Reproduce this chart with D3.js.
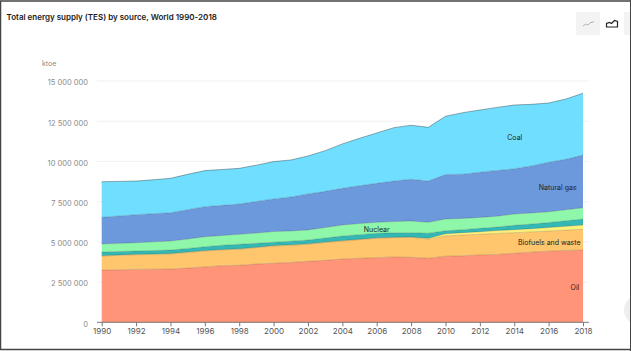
<!DOCTYPE html>
<html><head><meta charset="utf-8">
<script src="https://cdn.jsdelivr.net/npm/d3@7"></script>
<style>html,body{margin:0;padding:0;background:#fff;overflow:hidden}svg{display:block}</style>
</head><body><svg id="c" width="631" height="351"></svg>
<script>
const title = "Total energy supply (TES) by source, World 1990-2018";
const unit = "ktoe";
const years = d3.range(1990, 2019);
const yTicks = [0, 2500000, 5000000, 7500000, 10000000, 12500000, 15000000];
const seriesNames = ["Oil","Biofuels and waste","Wind, solar, etc.","Hydro","Nuclear","Natural gas","Coal"];
const seriesColors = ["#ff9478","#ffc66e","#fdf17a","#34b8b4","#8ff7a9","#6c98dc","#70deff"];
const oil = [3250,3260,3290,3300,3310,3370,3440,3520,3540,3620,3670,3720,3790,3850,3930,3980,4020,4060,4040,3980,4110,4130,4190,4220,4290,4360,4420,4470,4490];
const biofuels = [870,900,910,920,940,970,990,980,1000,1020,1070,1070,1060,1110,1120,1160,1200,1200,1240,1200,1260,1290,1280,1300,1280,1260,1250,1260,1290];
const windSolar = [30,30,30,30,30,30,30,30,30,30,30,30,30,30,30,30,30,30,30,50,130,150,160,180,190,200,220,240,270];
const hydro = [220,210,200,210,210,220,240,260,280,240,210,220,240,250,280,280,280,270,260,310,190,190,210,220,270,290,310,340,370];
const nuclear = [500,510,520,540,560,590,620,610,620,640,660,640,620,650,690,690,690,700,730,680,730,700,680,680,700,690,670,690,700];
const naturalGas = [1660,1700,1740,1750,1760,1820,1870,1870,1880,1960,2030,2110,2240,2250,2280,2350,2420,2520,2590,2560,2760,2750,2810,2840,2810,2920,3080,3130,3280];
const coal = [2210,2150,2090,2110,2140,2200,2240,2230,2220,2260,2320,2300,2360,2530,2760,2950,3130,3320,3360,3340,3630,3820,3870,3920,3970,3830,3680,3750,3840];
const seriesValues = [oil,biofuels,windSolar,hydro,nuclear,naturalGas,coal];
const labels = [
 {name:"Oil", year:2017.53, value:2160000},
 {name:"Biofuels and waste", year:2016.04, value:4960000},
 {name:"Nuclear", year:2006.0, value:5770000},
 {name:"Natural gas", year:2016.53, value:8410000},
 {name:"Coal", year:2014.03, value:11490000}
];

const svg = d3.select("#c");
const x = d3.scaleLinear().domain([1990,2018]).range([101.7,583]);
const y = d3.scaleLinear().domain([0,15000000]).range([322.3,81]);
const font = "Inter, 'Open Sans', sans-serif";

svg.append("rect").attr("width",631).attr("height",351).attr("fill","#fff");

svg.append("g").selectAll("line").data(yTicks.slice(1)).join("line")
 .attr("x1",97).attr("x2",589).attr("y1",d=>y(d)).attr("y2",d=>y(d))
 .attr("stroke","#f1f1f1").attr("stroke-width",1);

const rows = years.map((yr,i)=>{const r={year:yr};seriesNames.forEach((n,k)=>r[n]=seriesValues[k][i]*1000);return r;});
const stacked = d3.stack().keys(seriesNames)(rows);
const area = d3.area().x(d=>x(d.data.year)).y0(d=>y(d[0])).y1(d=>y(d[1]));
const line = d3.line().x(d=>x(d.data.year)).y(d=>y(d[1]));
const g = svg.append("g");
g.selectAll("path.a").data(stacked).join("path").attr("class","a").attr("d",area).attr("fill",(d,i)=>seriesColors[i]);
g.selectAll("path.l").data(stacked).join("path").attr("class","l").attr("d",line).attr("fill","none").attr("stroke","#000").attr("stroke-opacity",(d,i)=>i===6?0.4:0.2).attr("stroke-width",0.8);

const ax = svg.append("g").attr("transform","translate(0,322.3)")
 .call(d3.axisBottom(x).tickValues(d3.range(1990,2019,2)).tickFormat(d3.format("d")).tickSize(4).tickPadding(2));
ax.select(".domain").attr("d","M97,0H589").attr("stroke","#777");
ax.selectAll(".tick line").attr("stroke","#777");
ax.selectAll("text").attr("font-family",font).attr("font-size",8).attr("fill","#555");

svg.append("g").selectAll("text").data(yTicks).join("text")
 .attr("x",88).attr("y",d=>y(d)+4.4).attr("text-anchor","end")
 .attr("font-family",font).attr("font-size",7.5).attr("fill","#8a8a8a")
 .text(d=>d3.format(",")(d).replace(/,/g," "));

svg.append("text").attr("x",42).attr("y",65.5).attr("font-family",font).attr("font-size",7).attr("fill","#8a8a8a").text(unit);
svg.append("text").attr("x",6.5).attr("y",20).attr("font-family",font).attr("font-size",8).attr("font-weight",600).attr("fill","#1a1a1a").text(title);

svg.append("g").selectAll("text").data(labels).join("text")
 .attr("x",d=>x(d.year)).attr("y",d=>y(d.value)+2.6).attr("text-anchor","middle")
 .attr("font-family",font).attr("font-size",7).attr("fill","#222").text(d=>d.name);

// switch buttons
svg.append("rect").attr("x",576).attr("y",12).attr("width",54).attr("height",23).attr("fill","#f3f3f3");
svg.append("rect").attr("x",600).attr("y",12).attr("width",24).attr("height",23).attr("fill","#fff");
svg.append("path").attr("d","M583,26l3,-2l2,1l3,-3l1,1l2,-2").attr("fill","none").attr("stroke","#aaa").attr("stroke-width",0.9);
svg.append("path").attr("d","M606.5,27v-3.5l3,-1l2,1l3,-3l3,1v5.5z").attr("fill","none").attr("stroke","#222").attr("stroke-width",1.2);

// screenshot frame
svg.append("circle").attr("cx",639).attr("cy",310).attr("r",15).attr("fill","#eeeeee");
svg.append("path").attr("d","M630.5,0V351").attr("fill","none").attr("stroke","#444").attr("stroke-width",1);
svg.append("path").attr("d","M0.5,349V1H631").attr("fill","none").attr("stroke","#444").attr("stroke-width",1.5);
svg.append("path").attr("d","M0,349.5H631").attr("fill","none").attr("stroke","#444").attr("stroke-width",1.5);
</script></body></html>
